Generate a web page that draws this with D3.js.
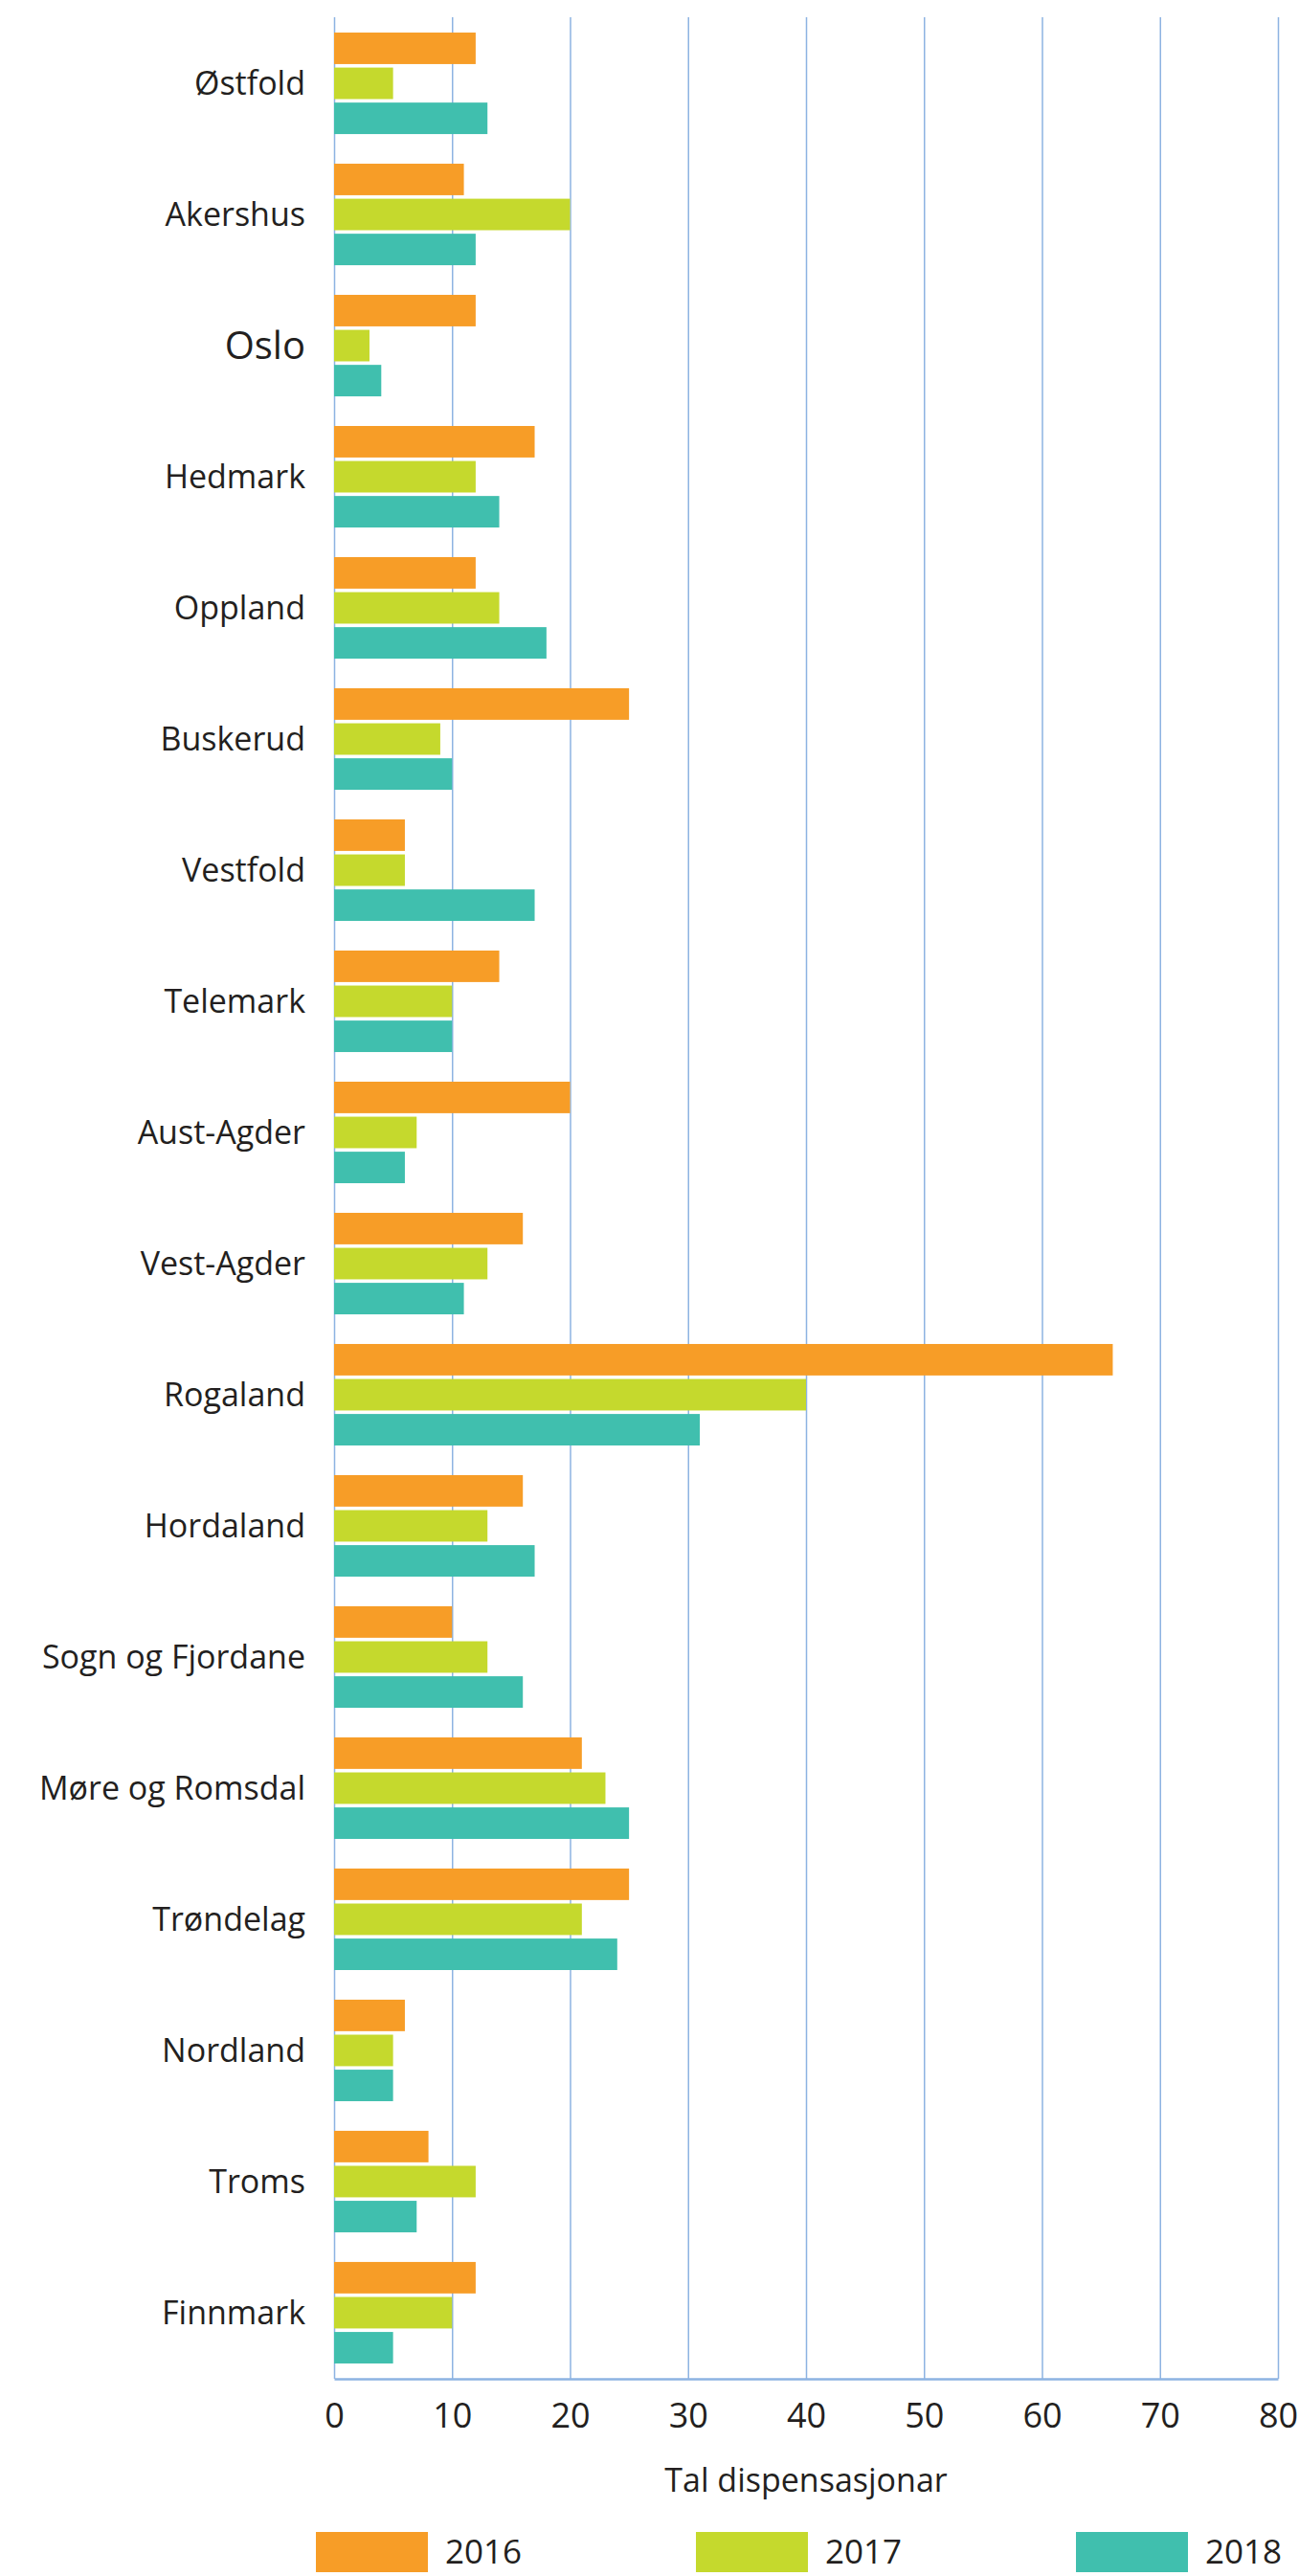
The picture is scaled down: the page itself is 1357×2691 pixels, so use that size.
<!DOCTYPE html>
<html>
<head>
<meta charset="utf-8">
<script src="https://cdn.jsdelivr.net/npm/d3@7"></script>
<style>
  body { margin: 0; background: #fff; }
  text { font-family: "Open Sans", sans-serif; fill: #231f20; }
</style>
</head>
<body>
<div id="chart"></div>
<script>
// data
var fylker = ["Østfold", "Akershus", "Oslo", "Hedmark", "Oppland", "Buskerud", "Vestfold", "Telemark",
  "Aust-Agder", "Vest-Agder", "Rogaland", "Hordaland", "Sogn og Fjordane", "Møre og Romsdal",
  "Trøndelag", "Nordland", "Troms", "Finnmark"];
var years = ["2016", "2017", "2018"];
var v2016 = [12, 11, 12, 17, 12, 25, 6, 14, 20, 16, 66, 16, 10, 21, 25, 6, 8, 12];
var v2017 = [5, 20, 3, 12, 14, 9, 6, 10, 7, 13, 40, 13, 13, 23, 21, 5, 12, 10];
var v2018 = [13, 12, 4, 14, 18, 10, 17, 10, 6, 11, 31, 17, 16, 25, 24, 5, 7, 5];
var xTicks = [0, 10, 20, 30, 40, 50, 60, 70, 80];
var colors = ["#f79d27", "#c5d92d", "#40bfae"];
var xTitle = "Tal dispensasjonar";

function createGraph(id) {
  const margin = {top: 18, right: 22, bottom: 206, left: 349};
  const width = 1357 - margin.left - margin.right;
  const height = 2691 - margin.top - margin.bottom;

  var series = [v2016, v2017, v2018];
  var rows = fylker.map(function(f, i) {
    return {name: f, values: years.map(function(y, j) { return {year: y, value: series[j][i]}; })};
  });

  var svg = d3.select(id).append("svg")
      .attr("width", width + margin.left + margin.right)
      .attr("height", height + margin.top + margin.bottom)
      .append("g")
      .attr("transform", "translate(" + margin.left + "," + margin.top + ")");

  var y0 = d3.scaleBand()
      .domain(fylker)
      .range([0, height])
      .paddingInner(0.226)
      .paddingOuter(0.117);

  var y1 = d3.scaleBand()
      .domain(years)
      .range([0, y0.bandwidth()])
      .paddingInner(0.1);

  var x = d3.scaleLinear()
      .domain([0, 80])
      .range([0, width]);

  var color = d3.scaleOrdinal().domain(years).range(colors);

  // grid + x axis
  var xAxis = svg.append("g")
      .attr("class", "x-axis")
      .attr("transform", "translate(0," + height + ")")
      .call(d3.axisBottom(x).tickValues(xTicks).tickSize(-height).tickSizeOuter(0));
  xAxis.select(".domain").attr("stroke", "#8db3e2").attr("stroke-width", 2.5);
  xAxis.selectAll(".tick line").attr("stroke", "#8db3e2").attr("stroke-width", 1.5);
  xAxis.selectAll(".tick text")
      .attr("y", 51).attr("dy", 0)
      .style("font-size", "36px");

  // bars
  var groups = svg.selectAll(".grp")
      .data(rows)
      .enter().append("g")
      .attr("class", "grp")
      .attr("transform", function(d) { return "translate(0," + y0(d.name) + ")"; });

  groups.selectAll("rect")
      .data(function(d) { return d.values; })
      .enter().append("rect")
      .attr("x", x(0))
      .attr("y", function(d) { return y1(d.year); })
      .attr("width", function(d) { return x(d.value) - x(0); })
      .attr("height", y1.bandwidth())
      .attr("fill", function(d) { return color(d.year); });

  // y axis (labels only)
  var yAxis = svg.append("g")
      .attr("class", "y-axis")
      .call(d3.axisLeft(y0).tickSize(0).tickPadding(30));
  yAxis.select(".domain").remove();
  yAxis.selectAll("text")
      .attr("dy", "0.36em")
      .style("font-size", function(d) { return d == "Oslo" ? "40px" : "34px"; });

  // x title
  svg.append("text")
      .attr("x", width / 2)
      .attr("y", height + 118)
      .attr("text-anchor", "middle")
      .style("font-size", "34px")
      .text(xTitle);

  // legend
  var legend = svg.selectAll(".legend")
      .data(years)
      .enter().append("g")
      .attr("class", "legend")
      .attr("transform", function(d, i) { return "translate(" + (-19 + i * 397) + "," + (height + 160) + ")"; });
  legend.append("rect")
      .attr("width", 117)
      .attr("height", 42)
      .attr("fill", function(d) { return color(d); });
  legend.append("text")
      .attr("x", 135)
      .attr("y", 33)
      .style("font-size", "35px")
      .text(function(d) { return d; });
}

createGraph("#chart");
</script>
</body>
</html>
